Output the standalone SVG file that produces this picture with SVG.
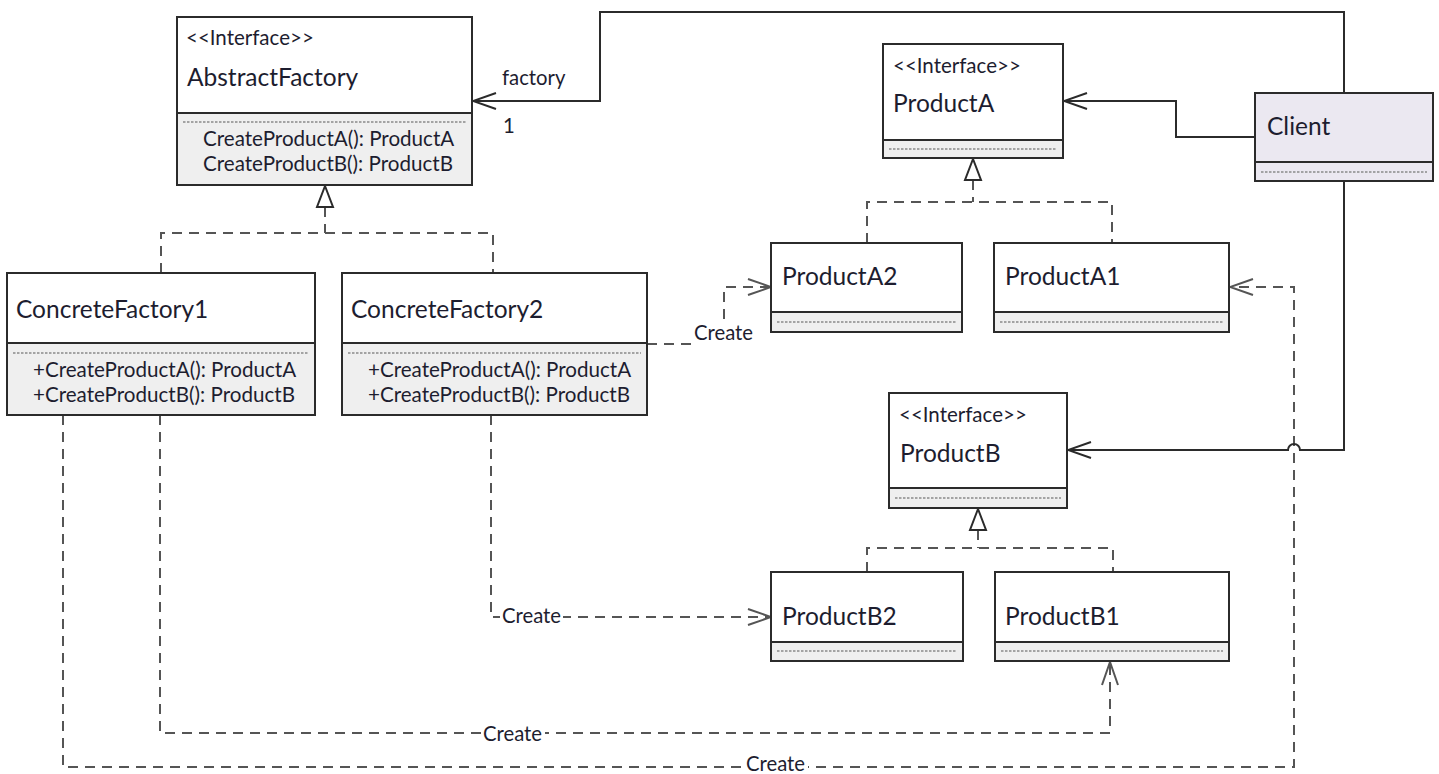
<svg xmlns="http://www.w3.org/2000/svg" width="1439" height="774" viewBox="0 0 1439 774">
<style>
.bg{fill:#ffffff}
.box{fill:#ffffff;stroke:#2b2b2b;stroke-width:2}
.comp{fill:#efefef;stroke:#2b2b2b;stroke-width:2}
.cl{fill:#ebe8f1;stroke:#2b2b2b;stroke-width:2}
.dots{stroke:#8a8a8a;stroke-width:1.3;stroke-dasharray:2.5 1.5;fill:none}
.title{font-family:Lato,"Liberation Sans",sans-serif;font-size:24.5px;fill:#1d1d2f}
.ster{font-family:Lato,"Liberation Sans",sans-serif;font-size:20.5px;fill:#1d1d2f}
.meth{font-family:Lato,"Liberation Sans",sans-serif;font-size:20.6px;fill:#1d1d2f}
.lbl{font-family:Lato,"Liberation Sans",sans-serif;font-size:20.3px;fill:#1d1d2f}
.solid{fill:none;stroke:#2b2b2b;stroke-width:2}
.dash{fill:none;stroke:#555555;stroke-width:2;stroke-dasharray:10 7}
.tri{fill:#ffffff;stroke:#2b2b2b;stroke-width:2;stroke-linejoin:miter}
.lblbg{fill:#ffffff}
</style>
<defs>
<marker id="openS" markerUnits="userSpaceOnUse" viewBox="-26 -11 28 22" markerWidth="28" markerHeight="22" refX="0" refY="0" orient="auto">
<path d="M-23,-8 L0,0 L-23,8" fill="none" stroke="#2b2b2b" stroke-width="2"/>
</marker>
<marker id="openD" markerUnits="userSpaceOnUse" viewBox="-26 -11 28 22" markerWidth="28" markerHeight="22" refX="0" refY="0" orient="auto">
<path d="M-23,-8 L0,0 L-23,8" fill="none" stroke="#555555" stroke-width="2"/>
</marker>
</defs>
<rect class="bg" x="0" y="0" width="1439" height="774"/>

<g id="connectors">
<path class="solid" d="M1344,93 V12 H600 V101 H473" marker-end="url(#openS)"/>
<path class="solid" d="M1255,137 H1176 V101 H1064" marker-end="url(#openS)"/>
<path class="dash" d="M63,415 V767 H1294 V287 H1230" marker-end="url(#openD)"/>
<path class="solid" d="M1344,181 V450 H1300 A6,6 0 0 0 1288,450 H1068" marker-end="url(#openS)"/>
<path class="dash" d="M160,415 V733 H1110 V662" marker-end="url(#openD)"/>
<path class="dash" d="M491,415 V617 H771" marker-end="url(#openD)"/>
<path class="dash" d="M647,344 H724 V287 H771" marker-end="url(#openD)"/>
<path class="dash" d="M325,207 V233 M161,273 V233 H493 V273"/>
<polygon class="tri" points="325,186 317,207 333,207"/>
<path class="dash" d="M973,180 V202 M867,243 V202 H1112 V243"/>
<polygon class="tri" points="973,159 965,180 981,180"/>
<path class="dash" d="M978,530 V548 M867,572 V548 H1113 V572"/>
<polygon class="tri" points="978,509 970,530 986,530"/>
<text class="lbl" x="502" y="85">factory</text>
<text class="lbl" x="503" y="133">1</text>
<rect class="lblbg" x="693" y="323" width="64" height="24"/>
<text class="lbl" x="694" y="340">Create</text>
<rect class="lblbg" x="500" y="607" width="63" height="20"/>
<text class="lbl" x="502" y="623">Create</text>
<rect class="lblbg" x="481" y="724" width="64" height="20"/>
<text class="lbl" x="483" y="741">Create</text>
<rect class="lblbg" x="744" y="757" width="64" height="17"/>
<text class="lbl" x="746" y="771">Create</text>
</g>

<g id="AbstractFactory">
<rect class="box" x="177" y="17" width="295" height="168"/>
<rect class="comp" x="177" y="113" width="295" height="72"/>
<line class="dots" x1="183" y1="122" x2="466" y2="122"/>
<text class="ster" x="186" y="45">&lt;&lt;Interface&gt;&gt;</text>
<text class="title" x="187" y="86">AbstractFactory</text>
<text class="meth" x="203" y="146">CreateProductA(): ProductA</text>
<text class="meth" x="203" y="171">CreateProductB(): ProductB</text>
</g>

<g id="ConcreteFactory1">
<rect class="box" x="7" y="273" width="308" height="142"/>
<rect class="comp" x="7" y="343" width="308" height="72"/>
<line class="dots" x1="13" y1="353" x2="309" y2="353"/>
<text class="title" x="16" y="318">ConcreteFactory1</text>
<text class="meth" x="33" y="377">+CreateProductA(): ProductA</text>
<text class="meth" x="33" y="402">+CreateProductB(): ProductB</text>
</g>

<g id="ConcreteFactory2">
<rect class="box" x="342" y="273" width="305" height="142"/>
<rect class="comp" x="342" y="343" width="305" height="72"/>
<line class="dots" x1="348" y1="353" x2="641" y2="353"/>
<text class="title" x="351" y="318">ConcreteFactory2</text>
<text class="meth" x="368" y="377">+CreateProductA(): ProductA</text>
<text class="meth" x="368" y="402">+CreateProductB(): ProductB</text>
</g>

<g id="ProductA">
<rect class="box" x="883" y="44" width="180" height="114"/>
<rect class="comp" x="883" y="140" width="180" height="18"/>
<line class="dots" x1="889" y1="149" x2="1057" y2="149"/>
<text class="ster" x="893" y="73">&lt;&lt;Interface&gt;&gt;</text>
<text class="title" x="893" y="112">ProductA</text>
</g>

<g id="Client">
<rect class="cl" x="1255" y="93" width="178" height="88"/>
<rect class="cl" x="1255" y="162" width="178" height="19"/>
<line class="dots" x1="1261" y1="172" x2="1427" y2="172"/>
<text class="title" x="1267" y="135">Client</text>
</g>

<g id="ProductA2">
<rect class="box" x="771" y="243" width="191" height="89"/>
<rect class="comp" x="771" y="312" width="191" height="20"/>
<line class="dots" x1="777" y1="322" x2="956" y2="322"/>
<text class="title" x="782" y="285">ProductA2</text>
</g>

<g id="ProductA1">
<rect class="box" x="994" y="243" width="235" height="89"/>
<rect class="comp" x="994" y="312" width="235" height="20"/>
<line class="dots" x1="1000" y1="322" x2="1223" y2="322"/>
<text class="title" x="1005" y="285">ProductA1</text>
</g>

<g id="ProductB">
<rect class="box" x="889" y="393" width="178" height="115"/>
<rect class="comp" x="889" y="488" width="178" height="20"/>
<line class="dots" x1="895" y1="498" x2="1061" y2="498"/>
<text class="ster" x="899" y="422">&lt;&lt;Interface&gt;&gt;</text>
<text class="title" x="900" y="462">ProductB</text>
</g>

<g id="ProductB2">
<rect class="box" x="771" y="572" width="192" height="89"/>
<rect class="comp" x="771" y="642" width="192" height="19"/>
<line class="dots" x1="777" y1="651" x2="957" y2="651"/>
<text class="title" x="782" y="625">ProductB2</text>
</g>

<g id="ProductB1">
<rect class="box" x="995" y="572" width="234" height="89"/>
<rect class="comp" x="995" y="642" width="234" height="19"/>
<line class="dots" x1="1001" y1="651" x2="1223" y2="651"/>
<text class="title" x="1005" y="625">ProductB1</text>
</g>
</svg>
